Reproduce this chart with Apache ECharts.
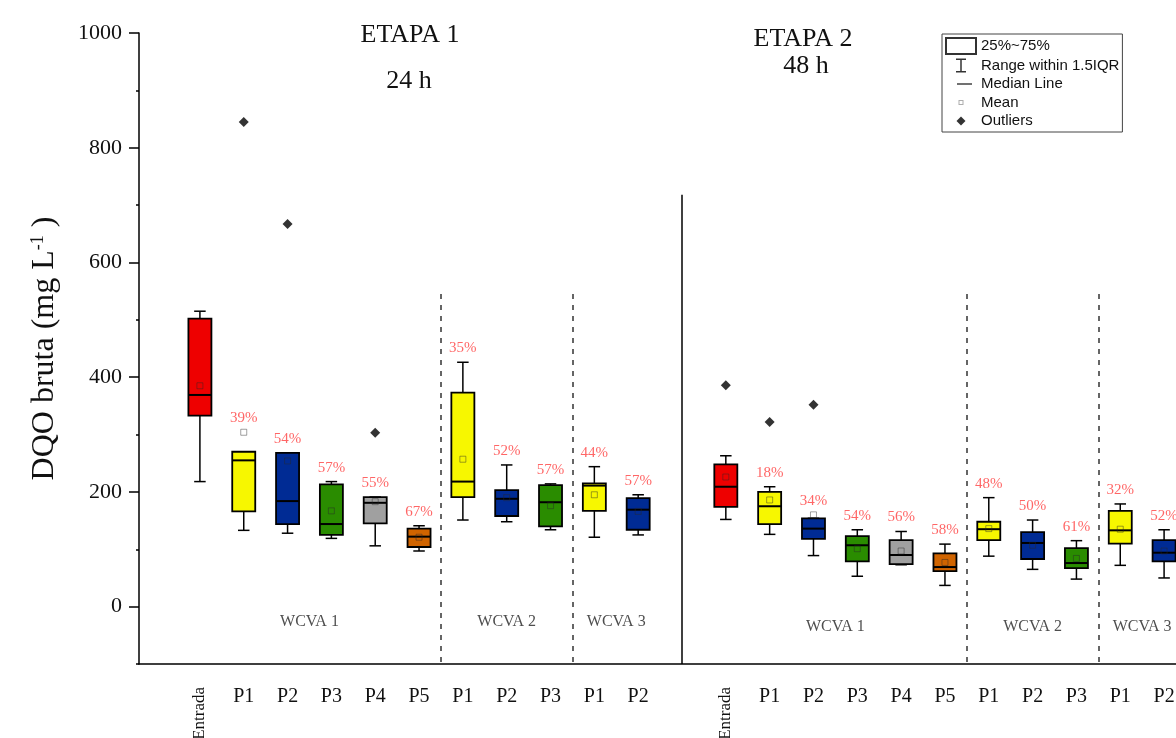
<!DOCTYPE html>
<html>
<head>
<meta charset="utf-8">
<title>DQO bruta</title>
<script src="https://cdn.jsdelivr.net/npm/echarts@6/dist/echarts.min.js"></script>
<style>
  html, body { margin: 0; padding: 0; background: #fff; }
  #chart { width: 1176px; height: 738px; }
</style>
</head>
<body>
<div id="chart"></div>
<script>
// x categories, '' is the empty slot between the two stages
const categories = ['Entrada', 'P1', 'P2', 'P3', 'P4', 'P5', 'P1', 'P2', 'P3', 'P1', 'P2', '',
                    'Entrada', 'P1', 'P2', 'P3', 'P4', 'P5', 'P1', 'P2', 'P3', 'P1', 'P2'];

// [min, Q1, median, Q3, max] (mg/L)
const boxStats = [
  [218, 333, 369, 502, 515],
  [133, 166, 255, 270, 270],
  [128, 144, 184, 268, 268],
  [119, 125, 144, 213, 218],
  [106, 145, 181, 191, 191],
  [97, 104, 122, 136, 141],
  [151, 191, 218, 373, 426],
  [148, 158, 188, 203, 247],
  [134, 140, 182, 212, 214],
  [121, 167, 211, 215, 244],
  [125, 134, 169, 189, 195],
  null,
  [152, 174, 209, 248, 263],
  [126, 144, 175, 200, 209],
  [89, 118, 136, 154, 154],
  [53, 79, 107, 123, 134],
  [73, 74, 90, 116, 131],
  [37, 62, 69, 93, 109],
  [88, 116, 135, 148, 190],
  [65, 83, 111, 130, 151],
  [48, 67, 76, 102, 115],
  [72, 110, 133, 167, 179],
  [50, 79, 94, 116, 134]
];

const means = [385, 304, 254, 167, 183, 121, 257, 190, 176, 195, 166, null,
               226, 186, 160, 101, 97, 77, 136, 107, 84, 135, 97];

// remocao (%)
const removal = [null, 39, 54, 57, 55, 67, 35, 52, 57, 44, 57, null,
                 null, 18, 34, 54, 56, 58, 48, 50, 61, 32, 52];

// [category index, value]
const outliers = [[1, 845], [2, 667], [4, 303], [12, 386], [13, 322], [14, 352]];

const groups = [
  { name: 'WCVA 1', from: 0, to: 5, stage: 1 },
  { name: 'WCVA 2', from: 6, to: 8, stage: 1 },
  { name: 'WCVA 3', from: 9, to: 10, stage: 1 },
  { name: 'WCVA 1', from: 12, to: 17, stage: 2 },
  { name: 'WCVA 2', from: 18, to: 20, stage: 2 },
  { name: 'WCVA 3', from: 21, to: 22, stage: 2 }
];

const stageTitles = ['ETAPA 1', 'ETAPA 2'];
const stageTimes = ['24 h', '48 h'];
const legendNames = ['25%~75%', 'Range within 1.5IQR', 'Median Line', 'Mean', 'Outliers'];

const serif = "'Liberation Serif', 'Times New Roman', serif";
const sans = "'Liberation Sans', Arial, sans-serif";
const boxColors = { Entrada: '#EE0000', P1: '#F7F700', P2: '#002B94', P3: '#2A8C00', P4: '#A0A0A0', P5: '#D06400' };

const boxData = [], meanData = [], pctData = [];
boxStats.forEach((s, i) => {
  if (!s) return;
  boxData.push({ value: [i].concat(s), itemStyle: { color: boxColors[categories[i]] } });
  meanData.push([i, means[i]]);
  if (removal[i] != null) pctData.push([i, Math.max(s[4], means[i]), removal[i]]);
});

const groupLabels = groups.map(g => ({ name: g.name, value: [(g.from + g.to) / 2, g.stage === 1 ? -27 : -35] }));

const dashed = { type: [5, 6], color: '#333', width: 1.5 };
const dividers = [];
groups.forEach((g, k) => {
  const next = groups[k + 1];
  if (next && next.stage === g.stage) {
    dividers.push([{ coord: [g.to + 0.5, 545], lineStyle: dashed }, { coord: [g.to + 0.5, -100] }]);
  }
});
const gapIndex = categories.indexOf('');
dividers.push([{ coord: [gapIndex, 718], lineStyle: { type: 'solid', color: '#000', width: 1.5 } }, { coord: [gapIndex, -100] }]);

function renderBox(params, api) {
  const x = api.value(0);
  const lo = api.coord([x, api.value(1)]);
  const q1 = api.coord([x, api.value(2)]);
  const md = api.coord([x, api.value(3)]);
  const q3 = api.coord([x, api.value(4)]);
  const hi = api.coord([x, api.value(5)]);
  const bw = api.size([1, 0])[0] * 0.525;
  const cx = lo[0];
  const line = { stroke: '#000', lineWidth: 1.5 };
  return {
    type: 'group',
    children: [
      { type: 'line', shape: { x1: cx, y1: hi[1], x2: cx, y2: q3[1] }, style: line },
      { type: 'line', shape: { x1: cx, y1: q1[1], x2: cx, y2: lo[1] }, style: line },
      { type: 'line', shape: { x1: cx - bw / 4, y1: hi[1], x2: cx + bw / 4, y2: hi[1] }, style: line },
      { type: 'line', shape: { x1: cx - bw / 4, y1: lo[1], x2: cx + bw / 4, y2: lo[1] }, style: line },
      { type: 'rect', shape: { x: cx - bw / 2, y: q3[1], width: bw, height: q1[1] - q3[1] },
        style: { fill: api.visual('color'), stroke: '#000', lineWidth: 1.8 } },
      { type: 'line', shape: { x1: cx - bw / 2, y1: md[1], x2: cx + bw / 2, y2: md[1] }, style: { stroke: '#000', lineWidth: 2 } }
    ]
  };
}

const titleStyle = { fontFamily: serif, fontSize: 26, fontWeight: 'normal', color: '#111' };

const chart = echarts.init(document.getElementById('chart'));
chart.setOption({
  animation: false,
  backgroundColor: '#fff',
  title: [
    { text: stageTitles[0], left: 405, top: 17, textAlign: 'center', textStyle: titleStyle },
    { text: stageTimes[0], left: 404, top: 63, textAlign: 'center', textStyle: titleStyle },
    { text: stageTitles[1], left: 798, top: 21, textAlign: 'center', textStyle: titleStyle },
    { text: stageTimes[1], left: 801, top: 48, textAlign: 'center', textStyle: titleStyle }
  ],
  legend: {
    orient: 'vertical', left: 942, top: 34,
    selectedMode: false,
    itemWidth: 30, itemHeight: 16, itemGap: 2.5,
    padding: [3, 3, 3, 3],
    borderColor: '#444', borderWidth: 1,
    textStyle: { fontFamily: sans, fontSize: 15, color: '#111' },
    data: [
      { name: legendNames[0], icon: 'rect', itemStyle: { color: '#fff', borderColor: '#000', borderWidth: 2 } },
      { name: legendNames[1], icon: 'path://M0,0M30,16M10,1H20V2.5H15.75V13.5H20V15H10V13.5H14.25V2.5H10Z', itemStyle: { color: '#000', borderWidth: 0 } },
      { name: legendNames[2], icon: 'path://M0,0M30,16M11,7.3H26V8.7H11Z', itemStyle: { color: '#000', borderWidth: 0 } },
      { name: legendNames[3], icon: 'path://M0,0M30,16M12.5,5.5H17.5V10.5H12.5ZM13.5,6.5V9.5H16.5V6.5Z', itemStyle: { color: '#999', borderWidth: 0 } },
      { name: legendNames[4], icon: 'path://M0,0M30,16M15,3.5L19.5,8L15,12.5L10.5,8Z', itemStyle: { color: '#000', borderWidth: 0 } }
    ]
  },
  grid: [
    { left: 178, width: 1008, top: 33, bottom: 74, outerBoundsMode: 'none' },
    { left: 139, width: 1047, top: 33, bottom: 74, outerBoundsMode: 'none' },
    { left: 139, width: 1047, top: 33, bottom: 131.36, outerBoundsMode: 'none' }
  ],
  xAxis: [
    {
      type: 'category', gridIndex: 0, position: 'bottom', data: categories,
      axisLine: { show: false, onZero: false },
      axisTick: { alignWithLabel: true, length: 10, interval: (i, v) => v !== '', lineStyle: { color: '#000', width: 1.5 } },
      axisLabel: { interval: 0, margin: 23, fontFamily: serif, fontSize: 20, color: '#111',
                   formatter: v => (v === 'Entrada' ? '' : v) }
    },
    {
      type: 'category', gridIndex: 0, position: 'bottom', data: categories,
      axisLine: { show: false, onZero: false }, axisTick: { show: false },
      axisLabel: { interval: 0, rotate: 90, margin: 23, fontFamily: serif, fontSize: 17, color: '#111',
                   formatter: v => (v === 'Entrada' ? v : '') }
    },
    { type: 'value', gridIndex: 0, position: 'bottom', min: -0.5, max: categories.length - 0.5, show: false },
    {
      type: 'value', gridIndex: 1, position: 'bottom', min: 0, max: 1,
      axisLine: { show: true, onZero: false, lineStyle: { color: '#000', width: 1.5 } },
      axisTick: { show: false }, axisLabel: { show: false }, splitLine: { show: false }
    },
    { type: 'value', gridIndex: 2, position: 'bottom', min: 0, max: 1, show: false }
  ],
  yAxis: [
    { type: 'value', gridIndex: 0, min: -100, max: 1000, show: false },
    {
      type: 'value', gridIndex: 1, min: -100, max: 1000, interval: 100,
      axisLine: { show: true, onZero: false, lineStyle: { color: '#000', width: 1.5 } },
      axisTick: { show: true, length: 3, lineStyle: { color: '#000', width: 1.5 } },
      axisLabel: { show: false }, splitLine: { show: false },
      name: 'DQO bruta (mg L{sup|-1} )', nameLocation: 'middle', nameRotate: 90, nameGap: 78,
      nameTextStyle: { fontFamily: serif, fontSize: 32, color: '#111',
                       rich: { sup: { fontFamily: serif, fontSize: 18, verticalAlign: 'top', color: '#111' } } }
    },
    {
      type: 'value', gridIndex: 2, min: 0, max: 1000, interval: 200,
      axisLine: { show: false, onZero: false },
      axisTick: { show: true, length: 10, lineStyle: { color: '#000', width: 1.5 } },
      axisLabel: { margin: 17, fontFamily: serif, fontSize: 22, color: '#111', formatter: v => String(v) },
      splitLine: { show: false }
    }
  ],
  series: [
    {
      type: 'custom', name: 'box', xAxisIndex: 2, yAxisIndex: 0,
      renderItem: renderBox, data: boxData, z: 2,
      markLine: { silent: true, symbol: 'none', label: { show: false }, data: dividers }
    },
    {
      type: 'scatter', name: 'mean', xAxisIndex: 2, yAxisIndex: 0, data: meanData, z: 4,
      symbol: 'rect', symbolSize: 6,
      itemStyle: { color: 'rgba(255,255,255,0)', borderColor: 'rgba(40,40,40,0.55)', borderWidth: 1 }
    },
    {
      type: 'scatter', name: 'outliers', xAxisIndex: 2, yAxisIndex: 0, data: outliers, z: 4,
      symbol: 'diamond', symbolSize: 10, itemStyle: { color: '#000' }
    },
    {
      type: 'scatter', name: 'removal', xAxisIndex: 2, yAxisIndex: 0, data: pctData, z: 5,
      symbolSize: 1, itemStyle: { color: 'rgba(0,0,0,0)' },
      label: { show: true, position: 'top', distance: 6, fontFamily: serif, fontSize: 15, color: '#FF4040',
               formatter: p => p.value[2] + '%' }
    },
    {
      type: 'scatter', name: 'groups', xAxisIndex: 2, yAxisIndex: 0, data: groupLabels, z: 5,
      symbolSize: 1, itemStyle: { color: 'rgba(0,0,0,0)' },
      label: { show: true, position: 'inside', fontFamily: serif, fontSize: 16, color: '#222', formatter: p => p.name }
    }
  ].concat(legendNames.map(n => ({ type: 'scatter', name: n, xAxisIndex: 2, yAxisIndex: 0, data: [] })))
});
</script>
</body>
</html>
